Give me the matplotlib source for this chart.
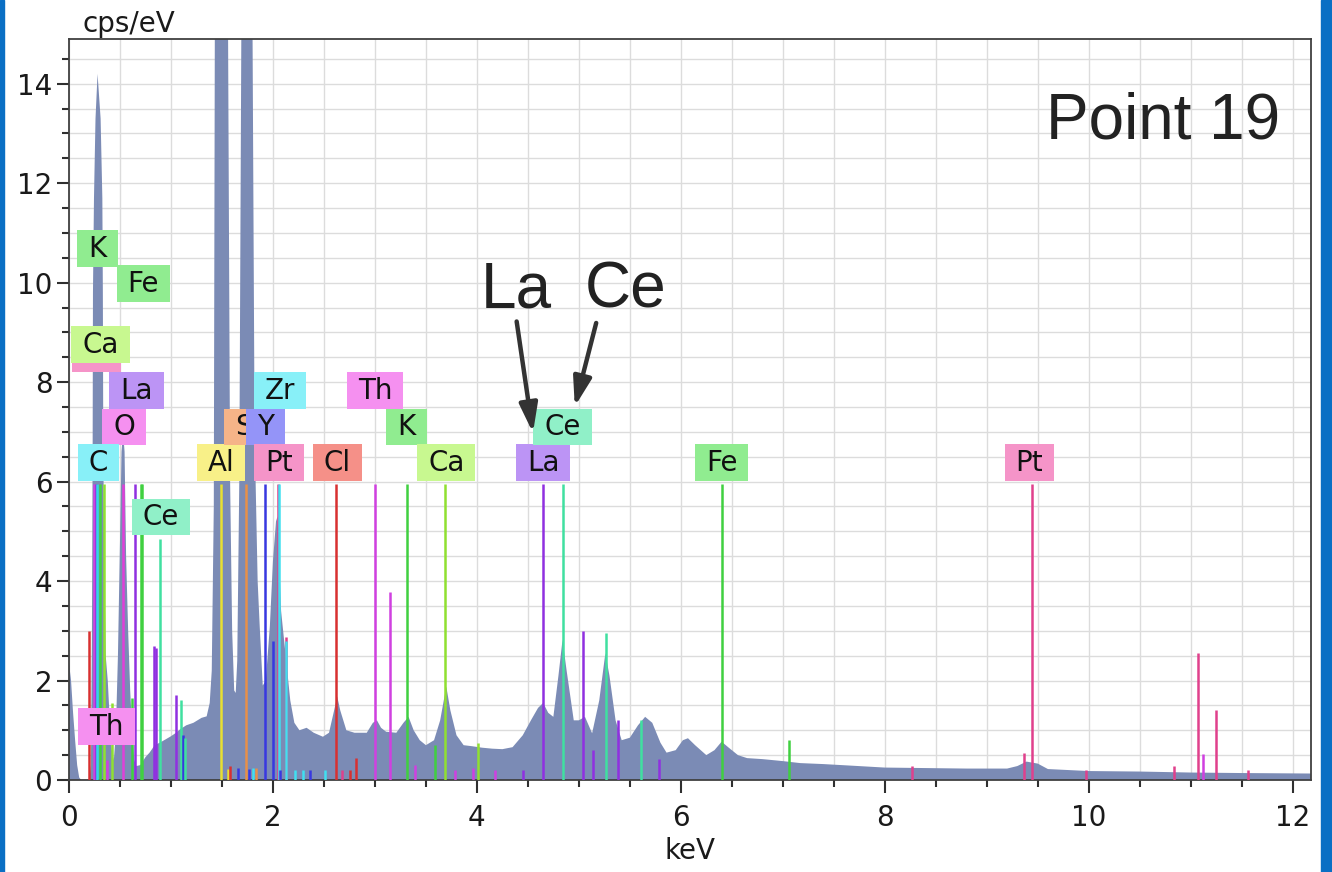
import matplotlib
matplotlib.use('Agg')
import matplotlib.pyplot as plt
from matplotlib.patches import Rectangle
from matplotlib.ticker import MultipleLocator

# EDS spectrum (keV, cps/eV); Al and Si peaks run off the top
energy = [0.00, 0.02, 0.04, 0.06, 0.08, 0.10, 0.12, 0.20, 0.215, 0.225, 0.232, 0.235,
          0.245, 0.26, 0.28, 0.31, 0.327, 0.332, 0.336, 0.345, 0.36, 0.38, 0.40,
          0.42, 0.44, 0.46, 0.48, 0.50, 0.515, 0.53, 0.545, 0.56, 0.58, 0.60, 0.62,
          0.64, 0.66, 0.70, 0.75, 0.79, 0.84, 0.89, 0.95, 1.00, 1.05, 1.09, 1.15,
          1.22, 1.30, 1.35, 1.38, 1.40, 1.42, 1.43, 1.44, 1.49, 1.55, 1.56, 1.58,
          1.60, 1.62, 1.635, 1.65, 1.67, 1.69, 1.70, 1.75, 1.79, 1.80, 1.82, 1.85,
          1.87, 1.90, 1.93, 1.97, 2.00, 2.03, 2.045, 2.06, 2.08, 2.11, 2.13, 2.17,
          2.21, 2.26, 2.33, 2.40, 2.49, 2.55, 2.60, 2.63, 2.66, 2.72, 2.80, 2.92,
          2.98, 3.02, 3.06, 3.11, 3.21, 3.28, 3.33, 3.38, 3.44, 3.50, 3.58, 3.64,
          3.70, 3.74, 3.80, 3.87, 3.95, 4.05, 4.15, 4.25, 4.35, 4.45, 4.53, 4.60,
          4.65, 4.70, 4.75, 4.80, 4.84, 4.88, 4.95, 5.00, 5.06, 5.13, 5.20, 5.26,
          5.30, 5.36, 5.42, 5.50, 5.58, 5.65, 5.72, 5.80, 5.86, 5.95, 6.02, 6.07,
          6.14, 6.25, 6.33, 6.40, 6.47, 6.56, 6.65, 6.80, 7.00, 7.17, 7.40, 7.66,
          8.00, 8.40, 8.80, 9.20, 9.30, 9.39, 9.50, 9.60, 10.0, 10.5, 11.0, 11.5, 12.2]
counts = [2.35, 2.0, 1.35, 0.8, 0.3, 0.05, 0.0, 0.0, 0.3, 3.0, 6.8, 9.8,
          11.7, 13.3, 14.2, 13.3, 11.7, 9.8, 6.8, 4.5, 2.5, 2.0, 1.2,
          0.6, 0.4, 1.0, 2.5, 4.8, 6.6, 7.0, 6.6, 4.5, 3.0, 1.8, 1.0,
          0.4, 0.28, 0.3, 0.46, 0.55, 0.7, 0.75, 0.82, 0.88, 0.95, 1.02, 1.1,
          1.15, 1.25, 1.28, 1.55, 2.2, 5.5, 15, 25, 30, 25, 15, 6,
          3.0, 1.8, 1.75, 2.4, 6, 15, 25, 30, 25, 15, 7, 4,
          3.1, 1.9, 2.0, 3.1, 4.4, 5.2, 5.3, 4.5, 3.4, 2.8, 2.4, 1.6,
          1.15, 1.0, 1.05, 0.95, 0.87, 0.95, 1.4, 1.68, 1.4, 1.0, 0.95, 0.95,
          1.15, 1.2, 1.05, 0.97, 0.95, 1.15, 1.27, 1.0, 0.8, 0.7, 0.8, 1.2,
          1.88, 1.4, 0.9, 0.7, 0.68, 0.65, 0.63, 0.62, 0.66, 0.9, 1.2, 1.45,
          1.55, 1.35, 1.27, 2.1, 2.82, 2.2, 1.2, 1.2, 1.27, 0.94, 1.6, 2.55,
          2.1, 1.2, 0.8, 0.85, 1.1, 1.27, 1.15, 0.75, 0.55, 0.6, 0.8, 0.84,
          0.7, 0.5, 0.6, 0.77, 0.65, 0.5, 0.44, 0.42, 0.38, 0.34, 0.32, 0.29,
          0.25, 0.24, 0.23, 0.23, 0.28, 0.37, 0.33, 0.22, 0.18, 0.17, 0.15, 0.14, 0.13]

# element marker lines
line_elem = ['Cl', 'Th', 'La', 'C', 'K', 'Ca', 'Th', 'Ca', 'O', 'Fe', 'La', 'Fe', 'Fe',
             'La', 'La', 'Ce', 'La', 'Ce', 'Y', 'Ce',
             'Al', 'Al', 'Cl', 'Y', 'Si', 'Y', 'Zr', 'Si', 'Y', 'Y', 'Pt', 'Zr', 'Y',
             'Pt', 'Zr', 'Zr', 'Zr', 'Y', 'Zr', 'Cl', 'Pt', 'Cl', 'Cl', 'Th', 'Th',
             'K', 'Th', 'K', 'Ca', 'Th', 'Th', 'Ca', 'Th', 'La', 'La', 'Ce', 'La',
             'La', 'La', 'Ce', 'La', 'Ce', 'Fe', 'Fe',
             'Pt', 'Pt', 'Pt', 'Pt', 'Pt', 'Pt', 'Th', 'Pt', 'Pt']
line_kev = [0.20, 0.245, 0.265, 0.277, 0.30, 0.34, 0.375, 0.42, 0.525, 0.615, 0.65, 0.705, 0.718,
            0.833, 0.855, 0.895, 1.045, 1.10, 1.12, 1.14,
            1.487, 1.56, 1.58, 1.66, 1.740, 1.77, 1.80, 1.83, 1.922, 1.996, 2.048, 2.06, 2.07,
            2.127, 2.125, 2.22, 2.29, 2.36, 2.51, 2.622, 2.68, 2.76, 2.815, 2.996, 3.147,
            3.313, 3.39, 3.59, 3.691, 3.79, 3.96, 4.013, 4.18, 4.45, 4.651, 4.840, 5.042,
            5.14, 5.383, 5.262, 5.79, 5.613, 6.400, 7.058,
            8.268, 9.362, 9.442, 9.975, 10.84, 11.07, 11.12, 11.25, 11.56]
line_height = [3.0, 5.95, 5.95, 5.95, 5.95, 5.95, 0.4, 1.55, 5.95, 1.65, 5.95, 5.95, 5.95,
               2.7, 2.65, 4.85, 1.7, 1.6, 0.9, 0.85,
               5.95, 0.22, 0.28, 0.25, 5.95, 0.22, 0.25, 0.25, 5.95, 2.8, 5.95, 5.95, 0.2,
               2.87, 2.8, 0.2, 0.2, 0.2, 0.2, 5.95, 0.2, 0.2, 0.45, 5.95, 3.78,
               5.95, 0.3, 0.7, 5.95, 0.2, 0.25, 0.75, 0.2, 0.2, 5.95, 5.95, 3.0,
               0.6, 1.2, 2.95, 0.43, 1.2, 5.95, 0.8,
               0.28, 0.54, 5.95, 0.2, 0.28, 2.55, 0.52, 1.4, 0.2]

# label boxes: element, keV of box centre, height of box centre (drawn in this order)
label_elem = ['K', 'Fe', 'Pt', 'Ca', 'La', 'O', 'C', 'Ce', 'Th',
              'Al', 'Si', 'Y', 'Zr', 'Pt', 'Cl', 'Th', 'K', 'Ca', 'La', 'Ce', 'Fe', 'Pt']
label_kev = [0.28, 0.73, 0.27, 0.31, 0.66, 0.54, 0.29, 0.90, 0.37,
             1.49, 1.75, 1.93, 2.07, 2.06, 2.63, 3.00, 3.31, 3.70, 4.65, 4.84, 6.40, 9.42]
label_y = [10.68, 9.98, 8.57, 8.75, 7.83, 7.10, 6.38, 5.29, 1.07,
           6.38, 7.10, 7.10, 7.83, 6.38, 6.38, 7.83, 7.10, 6.38, 6.38, 7.10, 6.38, 6.38]

line_colors = {'C': '#2fd8e8', 'O': '#e040d8', 'Al': '#e8e030', 'Si': '#e89048',
               'Y': '#3838e0', 'Zr': '#40e0f0', 'Pt': '#e0408c', 'Cl': '#d83030',
               'Th': '#d040e0', 'K': '#40d040', 'Ca': '#90e030', 'La': '#9030e0',
               'Ce': '#40e0a0', 'Fe': '#40d040'}
box_colors = {'C': '#88f0f8', 'O': '#f590f0', 'Al': '#f8f088', 'Si': '#f5b488',
              'Y': '#9494f8', 'Zr': '#88f0f8', 'Pt': '#f594c8', 'Cl': '#f59088',
              'Th': '#f590f0', 'K': '#90ec90', 'Ca': '#c8f890', 'La': '#bc94f5',
              'Ce': '#90f0c8', 'Fe': '#90ec90'}

fig = plt.figure(figsize=(13.32, 8.72), dpi=100)
ax = fig.add_axes([69 / 1332, 1 - 780 / 872, (1311 - 69) / 1332, (780 - 39) / 872])

ax.set_xlim(0, 12.18)
ax.set_ylim(0, 14.9)
ax.xaxis.set_major_locator(MultipleLocator(2))
ax.xaxis.set_minor_locator(MultipleLocator(0.5))
ax.yaxis.set_major_locator(MultipleLocator(2))
ax.yaxis.set_minor_locator(MultipleLocator(0.5))
ax.grid(which='both', color='#dcdcdc', lw=1.0)
ax.set_axisbelow(True)
for s in ax.spines.values():
    s.set_color('#404040')
    s.set_linewidth(1.3)
ax.tick_params(which='major', length=9, width=1.5, labelsize=20, color='#303030', labelcolor='#1a1a1a')
ax.tick_params(which='minor', length=5, width=1.5, color='#303030')
ax.tick_params(axis='x', which='both', pad=8)
ax.tick_params(axis='y', which='both', pad=3)

# spectrum
ax.fill_between(energy, counts, color='#7b8bb5', lw=0, zorder=2)

# element lines
ax.vlines(line_kev, 0, line_height, colors=[line_colors[e] for e in line_elem],
          lw=1.8, zorder=3)

# element labels with boxes
texts = []
for i, (e, x, y) in enumerate(zip(label_elem, label_kev, label_y)):
    t = ax.text(x, y, e, fontsize=20, ha='center', va='center', color='#111111',
                zorder=6 + 2 * i)
    texts.append(t)

fig.canvas.draw()
r = fig.canvas.get_renderer()
inv = ax.transData.inverted()
for i, (t, e, y) in enumerate(zip(texts, label_elem, label_y)):
    bb = t.get_window_extent(r)
    x0 = inv.transform((bb.x0 - 11, 0))[0]
    x1 = inv.transform((bb.x1 + 11, 0))[0]
    ax.add_patch(Rectangle((x0, y - 0.37), x1 - x0, 0.74, facecolor=box_colors[e],
                           edgecolor='none', zorder=5 + 2 * i))

# La / Ce annotation
ax.text(4.04, 9.5, 'La', fontsize=46, family='Liberation Sans', color='#222222',
        ha='left', va='baseline', zorder=60)
ax.text(5.06, 9.5, 'Ce', fontsize=46, family='Liberation Sans', color='#222222',
        ha='left', va='baseline', zorder=60)
arrow = dict(arrowstyle='-|>,head_length=0.7,head_width=0.22', lw=3.2,
             color='#333333', mutation_scale=25, shrinkA=0, shrinkB=0)
ax.annotate('', xy=(4.55, 6.98), xytext=(4.39, 9.22), arrowprops=arrow, zorder=61)
ax.annotate('', xy=(4.96, 7.51), xytext=(5.17, 9.19), arrowprops=arrow, zorder=61)

ax.text(0.975, 0.866, 'Point 19', transform=ax.transAxes, fontsize=46,
        family='Liberation Sans', color='#222222', ha='right', va='baseline', zorder=60)

fig.text(82 / 1332, 1 - 32 / 872, 'cps/eV', fontsize=20, color='#1a1a1a', va='baseline')
ax.set_xlabel('keV', fontsize=20, color='#1a1a1a', labelpad=4)

# blue frame strips
fig.patches.append(Rectangle((0, 0), 4 / 1332, 1, transform=fig.transFigure,
                             color='#0a6fc4', zorder=0))
fig.patches.append(Rectangle((1321 / 1332, 0), 11 / 1332, 1, transform=fig.transFigure,
                             color='#0a6fc4', zorder=0))

fig.savefig('out.png', dpi=100)
